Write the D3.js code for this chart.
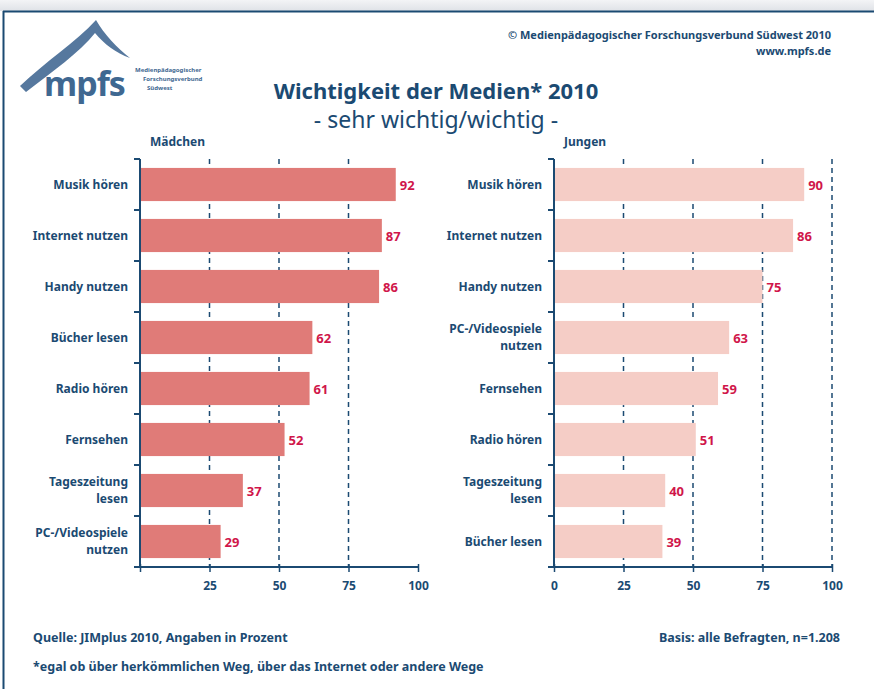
<!DOCTYPE html>
<html>
<head>
<meta charset="utf-8">
<script src="https://cdn.jsdelivr.net/npm/d3@7"></script>
<style>
  body { margin: 0; background: #fff; }
  svg { display: block; font-family: "Noto Sans", "Open Sans", sans-serif; }
</style>
</head>
<body>
<div id="container"></div>
<script>
const WIDTH = 874;
const HEIGHT = 689;
const NAVY = "#1b4a72";
const RED = "#d0164a";

// data
const girlsCategories = ["Musik hören", "Internet nutzen", "Handy nutzen", "Bücher lesen",
    "Radio hören", "Fernsehen", "Tageszeitung\nlesen", "PC-/Videospiele\nnutzen"];
const girlsValues = [92, 87, 86, 62, 61, 52, 37, 29];

const boysCategories = ["Musik hören", "Internet nutzen", "Handy nutzen", "PC-/Videospiele\nnutzen",
    "Fernsehen", "Radio hören", "Tageszeitung\nlesen", "Bücher lesen"];
const boysValues = [90, 86, 75, 63, 59, 51, 40, 39];

const girlsTicks = [25, 50, 75, 100];
const boysTicks = [0, 25, 50, 75, 100];

var svg = d3.select("#container").append("svg")
    .attr("width", WIDTH)
    .attr("height", HEIGHT);

// frame
var defs = svg.append("defs");
var grad = defs.append("linearGradient").attr("id", "topfade")
    .attr("x1", 0).attr("y1", 0).attr("x2", 0).attr("y2", 1);
grad.append("stop").attr("offset", "0%").attr("stop-color", "#f3f4f6");
grad.append("stop").attr("offset", "100%").attr("stop-color", "#dfe2e7");
svg.append("rect").attr("x", 0).attr("y", 0).attr("width", WIDTH).attr("height", 11)
    .attr("fill", "url(#topfade)");
svg.append("line").attr("x1", 3).attr("x2", WIDTH).attr("y1", 11.5).attr("y2", 11.5)
    .attr("stroke", NAVY).attr("stroke-width", 2);
svg.append("line").attr("x1", 3.5).attr("x2", 3.5).attr("y1", 11).attr("y2", HEIGHT)
    .attr("stroke", NAVY).attr("stroke-width", 2);

// logo
var logo = svg.append("g");
logo.append("path")
    .attr("d", "M20,86 C45,62 76,42 96,20 C104,34 117,48 130,58 C116,53 104,44 95,33 C80,52 52,72 26,92 Z")
    .attr("fill", "#56789e");
logo.append("text").attr("x", 44).attr("y", 96)
    .attr("font-size", 34).attr("font-weight", 700).attr("fill", "#3f6891")
    .style("letter-spacing", "-1px")
    .text("mpfs");
[["Medienpädagogischer", 72], ["Forschungsverbund", 81], ["Südwest", 90]].forEach(function (t, i) {
    logo.append("text").attr("x", i == 0 ? 135 : (i == 1 ? 143 : 147)).attr("y", t[1])
        .attr("font-size", 6).attr("font-weight", 700).attr("fill", "#3f6891")
        .text(t[0]);
});

// header texts
svg.append("text").attr("x", 831).attr("y", 39).attr("text-anchor", "end")
    .attr("font-size", 11).attr("font-weight", 700).attr("fill", NAVY)
    .text("© Medienpädagogischer Forschungsverbund Südwest 2010");
svg.append("text").attr("x", 831).attr("y", 55).attr("text-anchor", "end")
    .attr("font-size", 11).attr("font-weight", 700).attr("fill", NAVY)
    .text("www.mpfs.de");

svg.append("text").attr("x", 436).attr("y", 99).attr("text-anchor", "middle")
    .attr("font-size", 22).attr("font-weight", 700).attr("fill", NAVY)
    .text("Wichtigkeit der Medien* 2010");
svg.append("text").attr("x", 436).attr("y", 128).attr("text-anchor", "middle")
    .attr("font-size", 23).attr("fill", NAVY)
    .text("- sehr wichtig/wichtig -");

var drawPanel = function (x0, title, cats, vals, ticks, gridTicks, color) {
    var xScale = d3.scaleLinear().domain([0, 100]).range([x0, x0 + 278]);
    var yScale = d3.scaleBand().domain(cats).range([159, 567]).paddingInner(0.35).paddingOuter(0.175);
    var g = svg.append("g");

    g.append("text").attr("x", x0 + 10).attr("y", 146)
        .attr("font-size", 12).attr("font-weight", 700).attr("fill", NAVY)
        .text(title);

    // dashed grid
    g.selectAll(".grid").data(gridTicks).enter().append("line")
        .attr("x1", function (d) { return xScale(d); })
        .attr("x2", function (d) { return xScale(d); })
        .attr("y1", 159).attr("y2", 567)
        .attr("stroke", NAVY).attr("stroke-width", 1.5)
        .attr("stroke-dasharray", "5,4");

    g.selectAll(".bar").data(vals).enter().append("rect")
        .attr("x", xScale(0))
        .attr("y", function (d, i) { return yScale(cats[i]); })
        .attr("width", function (d) { return xScale(d) - xScale(0); })
        .attr("height", yScale.bandwidth())
        .attr("fill", color);

    g.selectAll(".val").data(vals).enter().append("text")
        .attr("x", function (d) { return xScale(d) + 4; })
        .attr("y", function (d, i) { return yScale(cats[i]) + yScale.bandwidth() / 2 + 5; })
        .attr("font-size", 13).attr("font-weight", 700).attr("fill", RED)
        .text(function (d) { return d; });

    // category labels
    cats.forEach(function (c, i) {
        var lines = c.split("\n");
        var cy = yScale(c) + yScale.bandwidth() / 2;
        var t = g.append("text").attr("text-anchor", "end")
            .attr("font-size", 12).attr("font-weight", 700).attr("fill", NAVY);
        lines.forEach(function (l, j) {
            t.append("tspan").attr("x", x0 - 12)
                .attr("y", cy + 4 + (j - (lines.length - 1) / 2) * 17)
                .text(l);
        });
    });

    // y axis with ticks at band boundaries
    var step = yScale.step();
    var bounds = d3.range(cats.length + 1).map(function (i) { return 159 + i * step; });
    g.append("line").attr("x1", x0).attr("x2", x0).attr("y1", 159).attr("y2", 568)
        .attr("stroke", NAVY).attr("stroke-width", 2);
    g.selectAll(".ytick").data(bounds.slice(0, -1)).enter().append("line")
        .attr("x1", x0 - 6).attr("x2", x0)
        .attr("y1", function (d) { return d; }).attr("y2", function (d) { return d; })
        .attr("stroke", NAVY).attr("stroke-width", 2);

    // x axis
    var xAxis = d3.axisBottom(xScale).tickValues([0, 25, 50, 75, 100]).tickSize(5).tickPadding(9)
        .tickFormat(function (d) { return ticks.indexOf(d) >= 0 ? d : ""; });
    var ax = g.append("g").attr("transform", "translate(0,567)").call(xAxis);
    ax.select(".domain").attr("stroke", NAVY).attr("stroke-width", 2)
        .attr("d", "M" + (x0 - 6) + ",0H" + (x0 + 278));
    ax.selectAll(".tick line").attr("stroke", NAVY).attr("stroke-width", 1.5)
        .attr("y1", -3);
    ax.selectAll(".tick text").attr("fill", NAVY)
        .attr("font-size", 12).attr("font-weight", 700)
        .attr("font-family", "'Noto Sans', sans-serif");
};

drawPanel(140, "Mädchen", girlsCategories, girlsValues, girlsTicks, [25, 50, 75], "#e07b78");
drawPanel(554, "Jungen", boysCategories, boysValues, boysTicks, [25, 50, 75, 100], "#f5cdc6");

// footer
svg.append("text").attr("x", 33).attr("y", 642)
    .attr("font-size", 12.5).attr("font-weight", 700).attr("fill", NAVY)
    .text("Quelle: JIMplus 2010, Angaben in Prozent");
svg.append("text").attr("x", 840).attr("y", 642).attr("text-anchor", "end")
    .attr("font-size", 12.5).attr("font-weight", 700).attr("fill", NAVY)
    .text("Basis: alle Befragten, n=1.208");
svg.append("text").attr("x", 33).attr("y", 671)
    .attr("font-size", 12.5).attr("font-weight", 700).attr("fill", NAVY)
    .text("*egal ob über herkömmlichen Weg, über das Internet oder andere Wege");
</script>
</body>
</html>
